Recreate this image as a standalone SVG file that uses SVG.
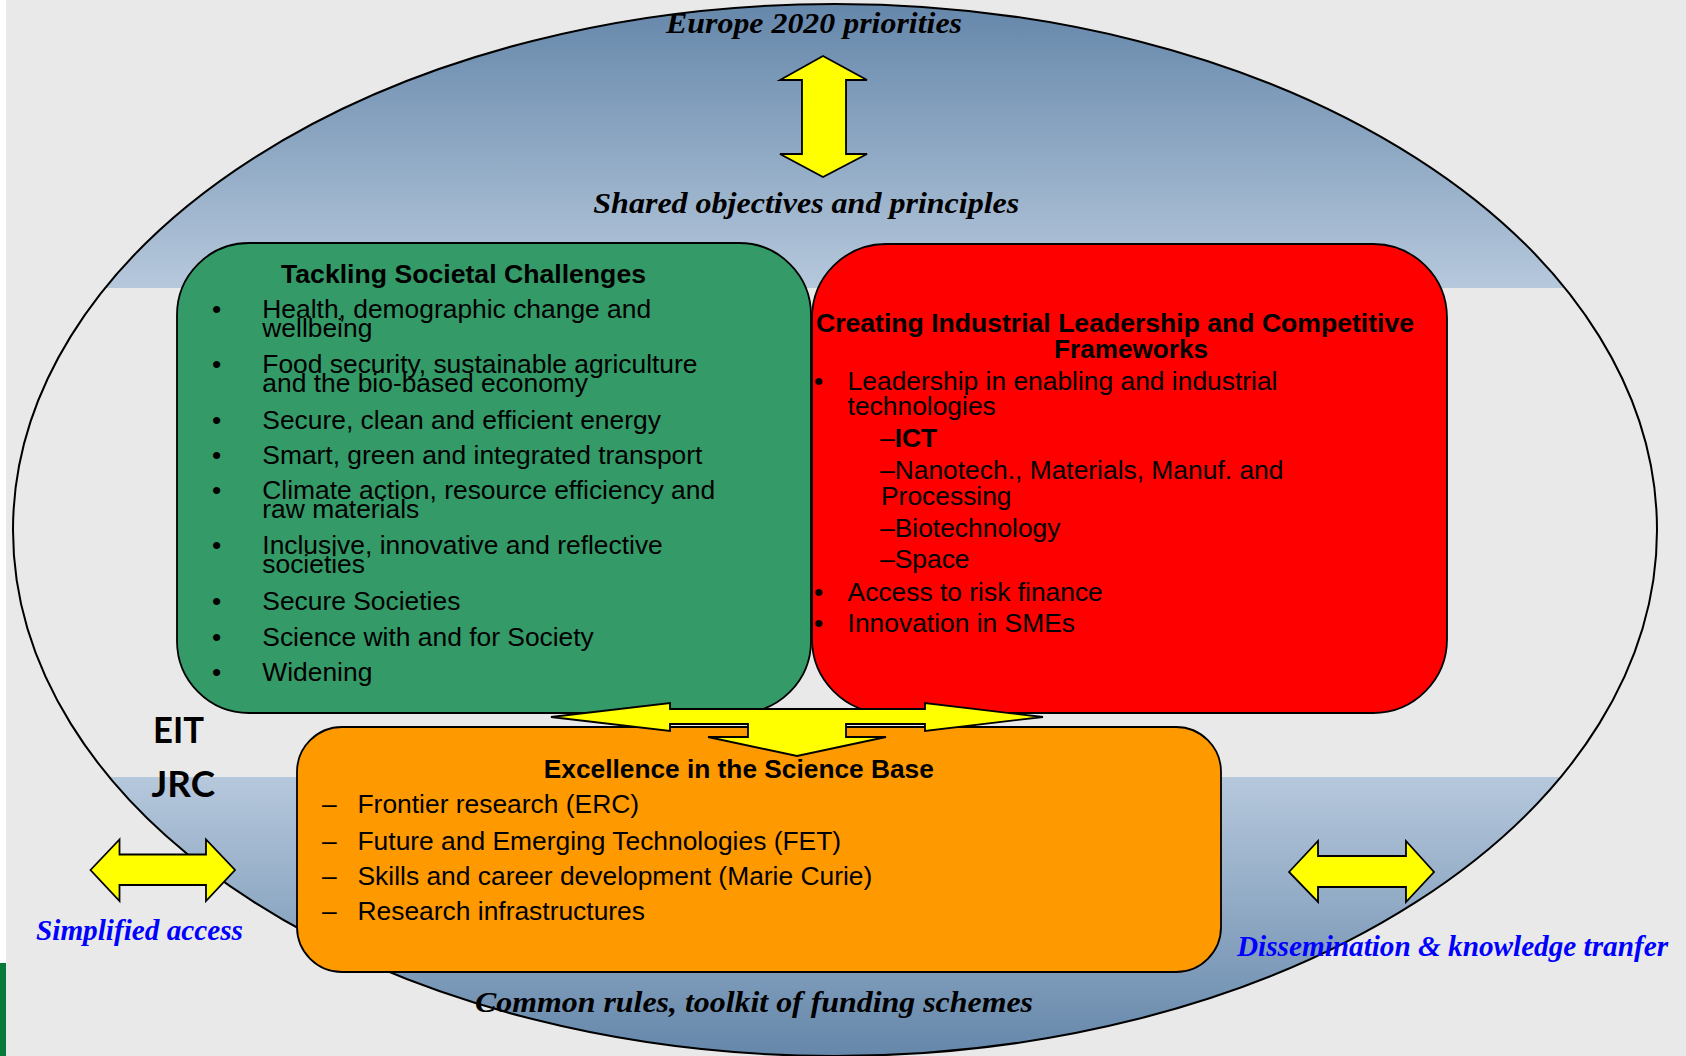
<svg xmlns="http://www.w3.org/2000/svg" width="1686" height="1056" viewBox="0 0 1686 1056">
  <defs>
    <linearGradient id="gTop" gradientUnits="userSpaceOnUse" x1="0" y1="4" x2="0" y2="288">
      <stop offset="0" stop-color="#6587aa"/>
      <stop offset="1" stop-color="#b6c8dc"/>
    </linearGradient>
    <linearGradient id="gBot" gradientUnits="userSpaceOnUse" x1="0" y1="777" x2="0" y2="1056">
      <stop offset="0" stop-color="#b6c8dc"/>
      <stop offset="1" stop-color="#6587aa"/>
    </linearGradient>
    <clipPath id="clipEll">
      <ellipse cx="835" cy="530" rx="822" ry="526"/>
    </clipPath>
    <style>
      .box { stroke: #000; stroke-width: 1.8; }
      .arrow { fill: #ffff00; stroke: #000; stroke-width: 1.8; stroke-linejoin: miter; }
      .serif { font-family: "Liberation Serif", "Times New Roman", serif; font-weight: bold; font-style: italic; font-size: 29px; }
      .blue { fill: #0000ff; }
      .sans { font-family: "Liberation Sans", Arial, sans-serif; font-size: 26.4px; fill: #000; }
      .b { font-weight: bold; }
      .big { font-family: Lato, "Open Sans", sans-serif; font-weight: bold; font-size: 37px; fill: #000; }
    </style>
  </defs>

  <!-- background -->
  <rect x="0" y="0" width="1686" height="1056" fill="#e9e9e9"/>
  <rect x="0" y="0" width="6" height="963" fill="#ffffff"/>
  <rect x="0" y="963" width="6" height="93" fill="#077a3a"/>

  <!-- outer ellipse frame -->
  <g id="frame">
    <g clip-path="url(#clipEll)">
      <rect x="0" y="0" width="1686" height="288" fill="url(#gTop)"/>
      <rect x="0" y="777" width="1686" height="279" fill="url(#gBot)"/>
    </g>
    <ellipse cx="835" cy="530" rx="822" ry="526" fill="none" stroke="#000" stroke-width="2"/>
  </g>

  <!-- node: Tackling Societal Challenges -->
  <g id="box-societal">
    <rect class="box" x="177" y="243" width="634" height="470" rx="72" ry="72" fill="#349a68"/>
    <text class="sans b" x="281" y="283.3" textLength="365" lengthAdjust="spacingAndGlyphs">Tackling Societal Challenges</text>
    <g class="sans">
      <text x="212" y="318.3">•</text><text x="262.3" y="318.3">Health, demographic change and</text>
      <text x="262.3" y="337.3">wellbeing</text>
      <text x="212" y="372.7">•</text><text x="262.3" y="372.7">Food security, sustainable agriculture</text>
      <text x="262.3" y="392.3">and the bio-based economy</text>
      <text x="212" y="429">•</text><text x="262.3" y="429">Secure, clean and efficient energy</text>
      <text x="212" y="464.3">•</text><text x="262.3" y="464.3">Smart, green and integrated transport</text>
      <text x="212" y="499.3">•</text><text x="262.3" y="499.3">Climate action, resource efficiency and</text>
      <text x="262.3" y="518.3">raw materials</text>
      <text x="212" y="554.3">•</text><text x="262.3" y="554.3">Inclusive, innovative and reflective</text>
      <text x="262.3" y="573.3">societies</text>
      <text x="212" y="610">•</text><text x="262.3" y="610">Secure Societies</text>
      <text x="212" y="646">•</text><text x="262.3" y="646">Science with and for Society</text>
      <text x="212" y="681">•</text><text x="262.3" y="681">Widening</text>
    </g>
  </g>

  <!-- node: Creating Industrial Leadership -->
  <g id="box-industrial">
    <rect class="box" x="812" y="244" width="635" height="469" rx="74" ry="74" fill="#ff0000"/>
    <text class="sans b" x="816" y="331.7" textLength="598" lengthAdjust="spacingAndGlyphs">Creating Industrial Leadership and Competitive</text>
    <text class="sans b" x="1054" y="358.3" textLength="154" lengthAdjust="spacingAndGlyphs">Frameworks</text>
    <g class="sans">
      <text x="814" y="390">•</text><text x="847.6" y="390">Leadership in enabling and industrial</text>
      <text x="847.6" y="415">technologies</text>
      <text x="880" y="446.7">–<tspan class="b">ICT</tspan></text>
      <text x="880" y="479.3">–Nanotech., Materials, Manuf. and</text>
      <text x="881" y="505">Processing</text>
      <text x="880" y="536.7">–Biotechnology</text>
      <text x="880" y="568.3">–Space</text>
      <text x="814" y="600.7">•</text><text x="847.6" y="600.7">Access to risk finance</text>
      <text x="814" y="632.3">•</text><text x="847.6" y="632.3">Innovation in SMEs</text>
    </g>
  </g>

  <!-- node: Excellence in the Science Base -->
  <g id="box-excellence">
    <rect class="box" x="297" y="727" width="924" height="245" rx="45" ry="45" fill="#ff9900"/>
    <text class="sans b" x="543.8" y="778.3" textLength="390" lengthAdjust="spacingAndGlyphs">Excellence in the Science Base</text>
    <g class="sans">
      <text x="322" y="813.3">–</text><text x="357.5" y="813.3">Frontier research (ERC)</text>
      <text x="322" y="850">–</text><text x="357.5" y="850">Future and Emerging Technologies (FET)</text>
      <text x="322" y="885">–</text><text x="357.5" y="885">Skills and career development (Marie Curie)</text>
      <text x="322" y="920">–</text><text x="357.5" y="920">Research infrastructures</text>
    </g>
  </g>

  <!-- connectors -->
  <g id="connectors">
    <polygon class="arrow" points="823,56 867,80 846,80 846,154 867,154 823,177 780,154 802,154 802,80 780,80"/>
    <polygon class="arrow" points="551,717 670,703 670,709 925,709 925,703 1043,717 925,731 925,724 846,724 846,737 886,737 797,756 708,737 748,737 748,724 670,724 670,731"/>
    <polygon class="arrow" points="90.5,870 119.5,839.5 119.5,854.5 206,854.5 206,839.5 235,870 206,901 206,885 119.5,885 119.5,901"/>
    <polygon class="arrow" points="1289,872 1318,841 1318,856 1406,856 1406,841 1434,872 1406,902 1406,887 1318,887 1318,902"/>
  </g>

  <!-- labels -->
  <g id="label-europe2020">
    <text class="serif" x="666" y="33.3" textLength="296" lengthAdjust="spacingAndGlyphs">Europe 2020 priorities</text>
  </g>
  <g id="label-shared">
    <text class="serif" x="593.3" y="213.3" textLength="426" lengthAdjust="spacingAndGlyphs">Shared objectives and principles</text>
  </g>
  <g id="label-common">
    <text class="serif" x="475" y="1011.7" textLength="558" lengthAdjust="spacingAndGlyphs">Common rules, toolkit of funding schemes</text>
  </g>
  <g id="label-simplified">
    <text class="serif blue" x="36" y="940" textLength="207" lengthAdjust="spacingAndGlyphs">Simplified access</text>
  </g>
  <g id="label-dissemination">
    <text class="serif blue" x="1237" y="956" textLength="431" lengthAdjust="spacingAndGlyphs">Dissemination &amp; knowledge tranfer</text>
  </g>
  <g id="label-eit-jrc">
    <text class="big" x="153" y="742.7" textLength="51" lengthAdjust="spacingAndGlyphs">EIT</text>
    <text class="big" x="151.5" y="796.7" textLength="63.5" lengthAdjust="spacingAndGlyphs">JRC</text>
  </g>
</svg>
